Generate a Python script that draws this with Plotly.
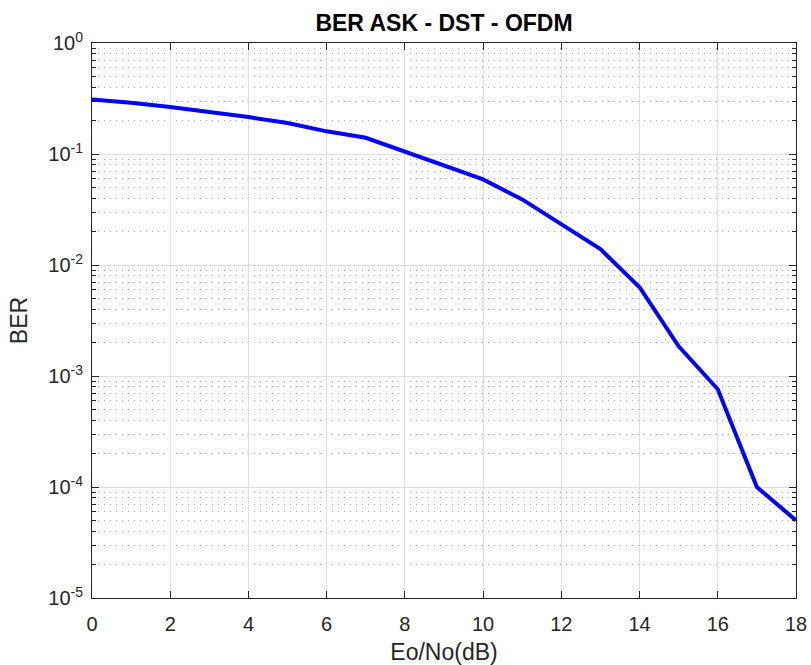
import plotly.graph_objects as go

snr_db = [0, 1, 2, 3, 4, 5, 6, 7, 8, 9, 10, 11, 12, 13, 14, 15, 16, 17, 18]
ber = [0.31, 0.29, 0.265, 0.24, 0.215, 0.19, 0.16, 0.14, 0.105, 0.080, 0.059,
       0.039, 0.023, 0.0139, 0.0063, 0.00185, 0.00076, 0.0001, 0.00005]

x_ticks = [0, 2, 4, 6, 8, 10, 12, 14, 16, 18]
y_ticks = [1e-5, 1e-4, 1e-3, 1e-2, 1e-1, 1e0]
y_ticklabels = ["10<sup>-5</sup>", "10<sup>-4</sup>", "10<sup>-3</sup>",
                "10<sup>-2</sup>", "10<sup>-1</sup>", "10<sup>0</sup>"]

fig = go.Figure()
fig.add_trace(go.Scatter(x=snr_db, y=ber, mode="lines",
                         line=dict(color="#0000FF", width=4),
                         showlegend=False))

axis_color = "#262626"
font = "Liberation Sans, Arial, sans-serif"

W, H = 811, 665

fig.update_layout(
    template="none",
    width=W, height=H,
    margin=dict(l=92, r=15, t=43, b=67, autoexpand=False),
    paper_bgcolor="white", plot_bgcolor="white",
    title=dict(text="<b>BER ASK - DST - OFDM</b>", x=0.5, xanchor="center",
               xref="paper", y=1 - 23 / H, yanchor="middle",
               font=dict(family=font, size=23, color="black")),
    font=dict(family=font, size=20, color=axis_color),
    xaxis=dict(
        range=[0, 18], tickvals=x_ticks, ticks="inside", ticklen=7,
        tickcolor=axis_color, showline=True, linecolor=axis_color,
        linewidth=1, mirror="ticks", showgrid=True, gridcolor="#dedede",
        gridwidth=1, zeroline=False, ticklabelstandoff=8, automargin=False,
        title=dict(text="Eo/No(dB)", font=dict(size=23, color=axis_color),
                   standoff=15),
        tickfont=dict(size=20, color=axis_color),
    ),
    yaxis=dict(
        type="log", range=[-5, 0], tickvals=y_ticks, ticktext=y_ticklabels,
        ticks="inside", ticklen=7, tickcolor=axis_color, showline=True,
        linecolor=axis_color, linewidth=1, mirror="ticks", showgrid=True,
        gridcolor="#dedede", gridwidth=1, zeroline=False,
        ticklabelstandoff=4, automargin=False,
        title=dict(text="BER", font=dict(size=23, color=axis_color),
                   standoff=14),
        tickfont=dict(size=20, color=axis_color),
        minor=dict(dtick="D1", ticks="inside", ticklen=4,
                   tickcolor=axis_color, showgrid=True,
                   gridcolor="#a8a8a8", griddash="1px,5px", gridwidth=1),
    ),
)

# remove the default 8px page margin so the 811x665 figure fills the window
fig.write_html("out.html",
               config={"displayModeBar": False},
               post_script="document.body.style.margin='0';"
                           "document.body.style.overflow='hidden';")
